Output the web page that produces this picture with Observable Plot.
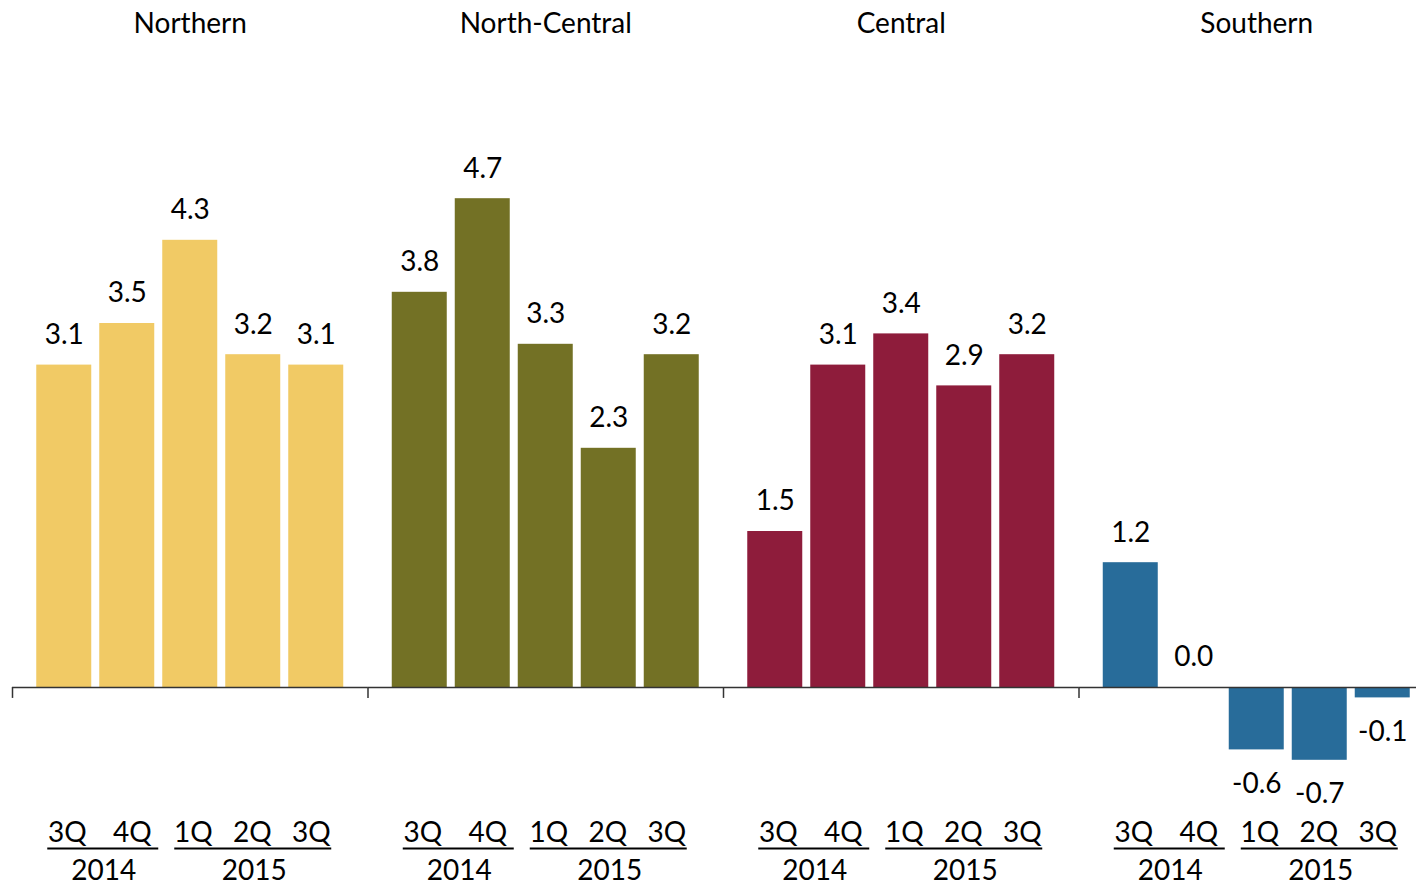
<!DOCTYPE html>
<html><head><meta charset="utf-8">
<script src="https://cdn.jsdelivr.net/npm/d3@7"></script>
<script src="https://cdn.jsdelivr.net/npm/@observablehq/plot@0.6"></script>
<style>
html,body{margin:0;padding:0;overflow:hidden;background:#fff;}
svg{max-width:none !important;}
</style></head><body><div id="chart"></div>
<script>
// ---- data ----
const groups = ["Northern", "North-Central", "Central", "Southern"];
const quarters = ["3Q 2014", "4Q 2014", "1Q 2015", "2Q 2015", "3Q 2015"];
const quarterLabels = ["3Q", "4Q", "1Q", "2Q", "3Q"];
const years = ["2014", "2015"];
const northern = [3.1, 3.5, 4.3, 3.2, 3.1];
const northCentral = [3.8, 4.7, 3.3, 2.3, 3.2];
const central = [1.5, 3.1, 3.4, 2.9, 3.2];
const southern = [1.2, 0.0, -0.6, -0.7, -0.1];
const colors = ["#F1CA65", "#737125", "#8E1C3B", "#286C9A"];

const series = [northern, northCentral, central, southern];
const data = groups.flatMap((g, i) => quarters.map((q, j) => ({group: g, quarter: q, value: series[i][j]})));

// ---- layout ----
const H = 885, mL = 12, facetW = 355.5, mT = 63, mB = 94;
const width = mL + facetW * groups.length;
const pi = 8 / 63, po = 0.385;
const step = facetW / (quarters.length - pi + 2 * po);
const bw = step * (1 - pi);
const off = (facetW - step * (quarters.length - pi)) / 2;
const FS = 28, FONT = "Lato, 'Open Sans', sans-serif", INK = "#000";
const quarterDx = [3, 5, 3, -1, -5];

const marks = [
  Plot.barY(data, {fx: "group", x: "quarter", y: "value", fill: "group"}),
  Plot.ruleY(groups, {fx: d => d, y: () => 0, stroke: "#333", strokeWidth: 1.5}),
  Plot.ruleX(groups, {fx: d => d, x: () => quarters[0], y1: () => 0, y2: () => -0.105, dx: -(off + bw / 2), stroke: "#333", strokeWidth: 1.5}),
  Plot.text(data.filter(d => d.value >= 0), {fx: "group", x: "quarter", y: "value", text: d => d.value.toFixed(1), dy: -30, fontSize: FS, fill: INK}),
  Plot.text(data.filter(d => d.value < 0), {fx: "group", x: "quarter", y: "value", text: d => d.value.toFixed(1), dy: 34, fontSize: FS, fill: INK}),
  Plot.text(groups, {fx: d => d, text: d => d, frameAnchor: "top", lineAnchor: "middle", dy: -39, fontSize: FS, fill: INK}),
  ...quarters.map((q, j) => Plot.text(groups, {fx: d => d, x: () => q, text: () => quarterLabels[j], frameAnchor: "bottom", lineAnchor: "middle", dy: 42, dx: quarterDx[j], fontSize: FS, fill: INK})),
  Plot.ruleY(groups, {fx: d => d, x1: () => quarters[0], x2: () => quarters[1], y: () => -1, dy: 57, insetLeft: 11, insetRight: -4, stroke: INK, strokeWidth: 2}),
  Plot.ruleY(groups, {fx: d => d, x1: () => quarters[2], x2: () => quarters[4], y: () => -1, dy: 57, insetLeft: 12, insetRight: 12, stroke: INK, strokeWidth: 2}),
  Plot.text(groups, {fx: d => d, x: () => quarters[0], text: () => years[0], frameAnchor: "bottom", lineAnchor: "middle", dy: 80, dx: step / 2 + 8, fontSize: FS, fill: INK}),
  Plot.text(groups, {fx: d => d, x: () => quarters[3], text: () => years[1], frameAnchor: "bottom", lineAnchor: "middle", dy: 80, dx: 1, fontSize: FS, fill: INK})
];

const chart = Plot.plot({
  width, height: H,
  marginLeft: mL, marginRight: 0, marginTop: mT, marginBottom: mB,
  style: {fontFamily: FONT, fontSize: FS + "px", background: "#fff", overflow: "visible"},
  fx: {domain: groups, padding: 0, round: false, axis: null},
  x: {domain: quarters, paddingInner: pi, paddingOuter: po, align: 0.5, round: false, axis: null},
  y: {domain: [-1, 6], axis: null},
  color: {domain: groups, range: colors},
  marks
});
document.getElementById("chart").appendChild(chart);
</script>
</body></html>
